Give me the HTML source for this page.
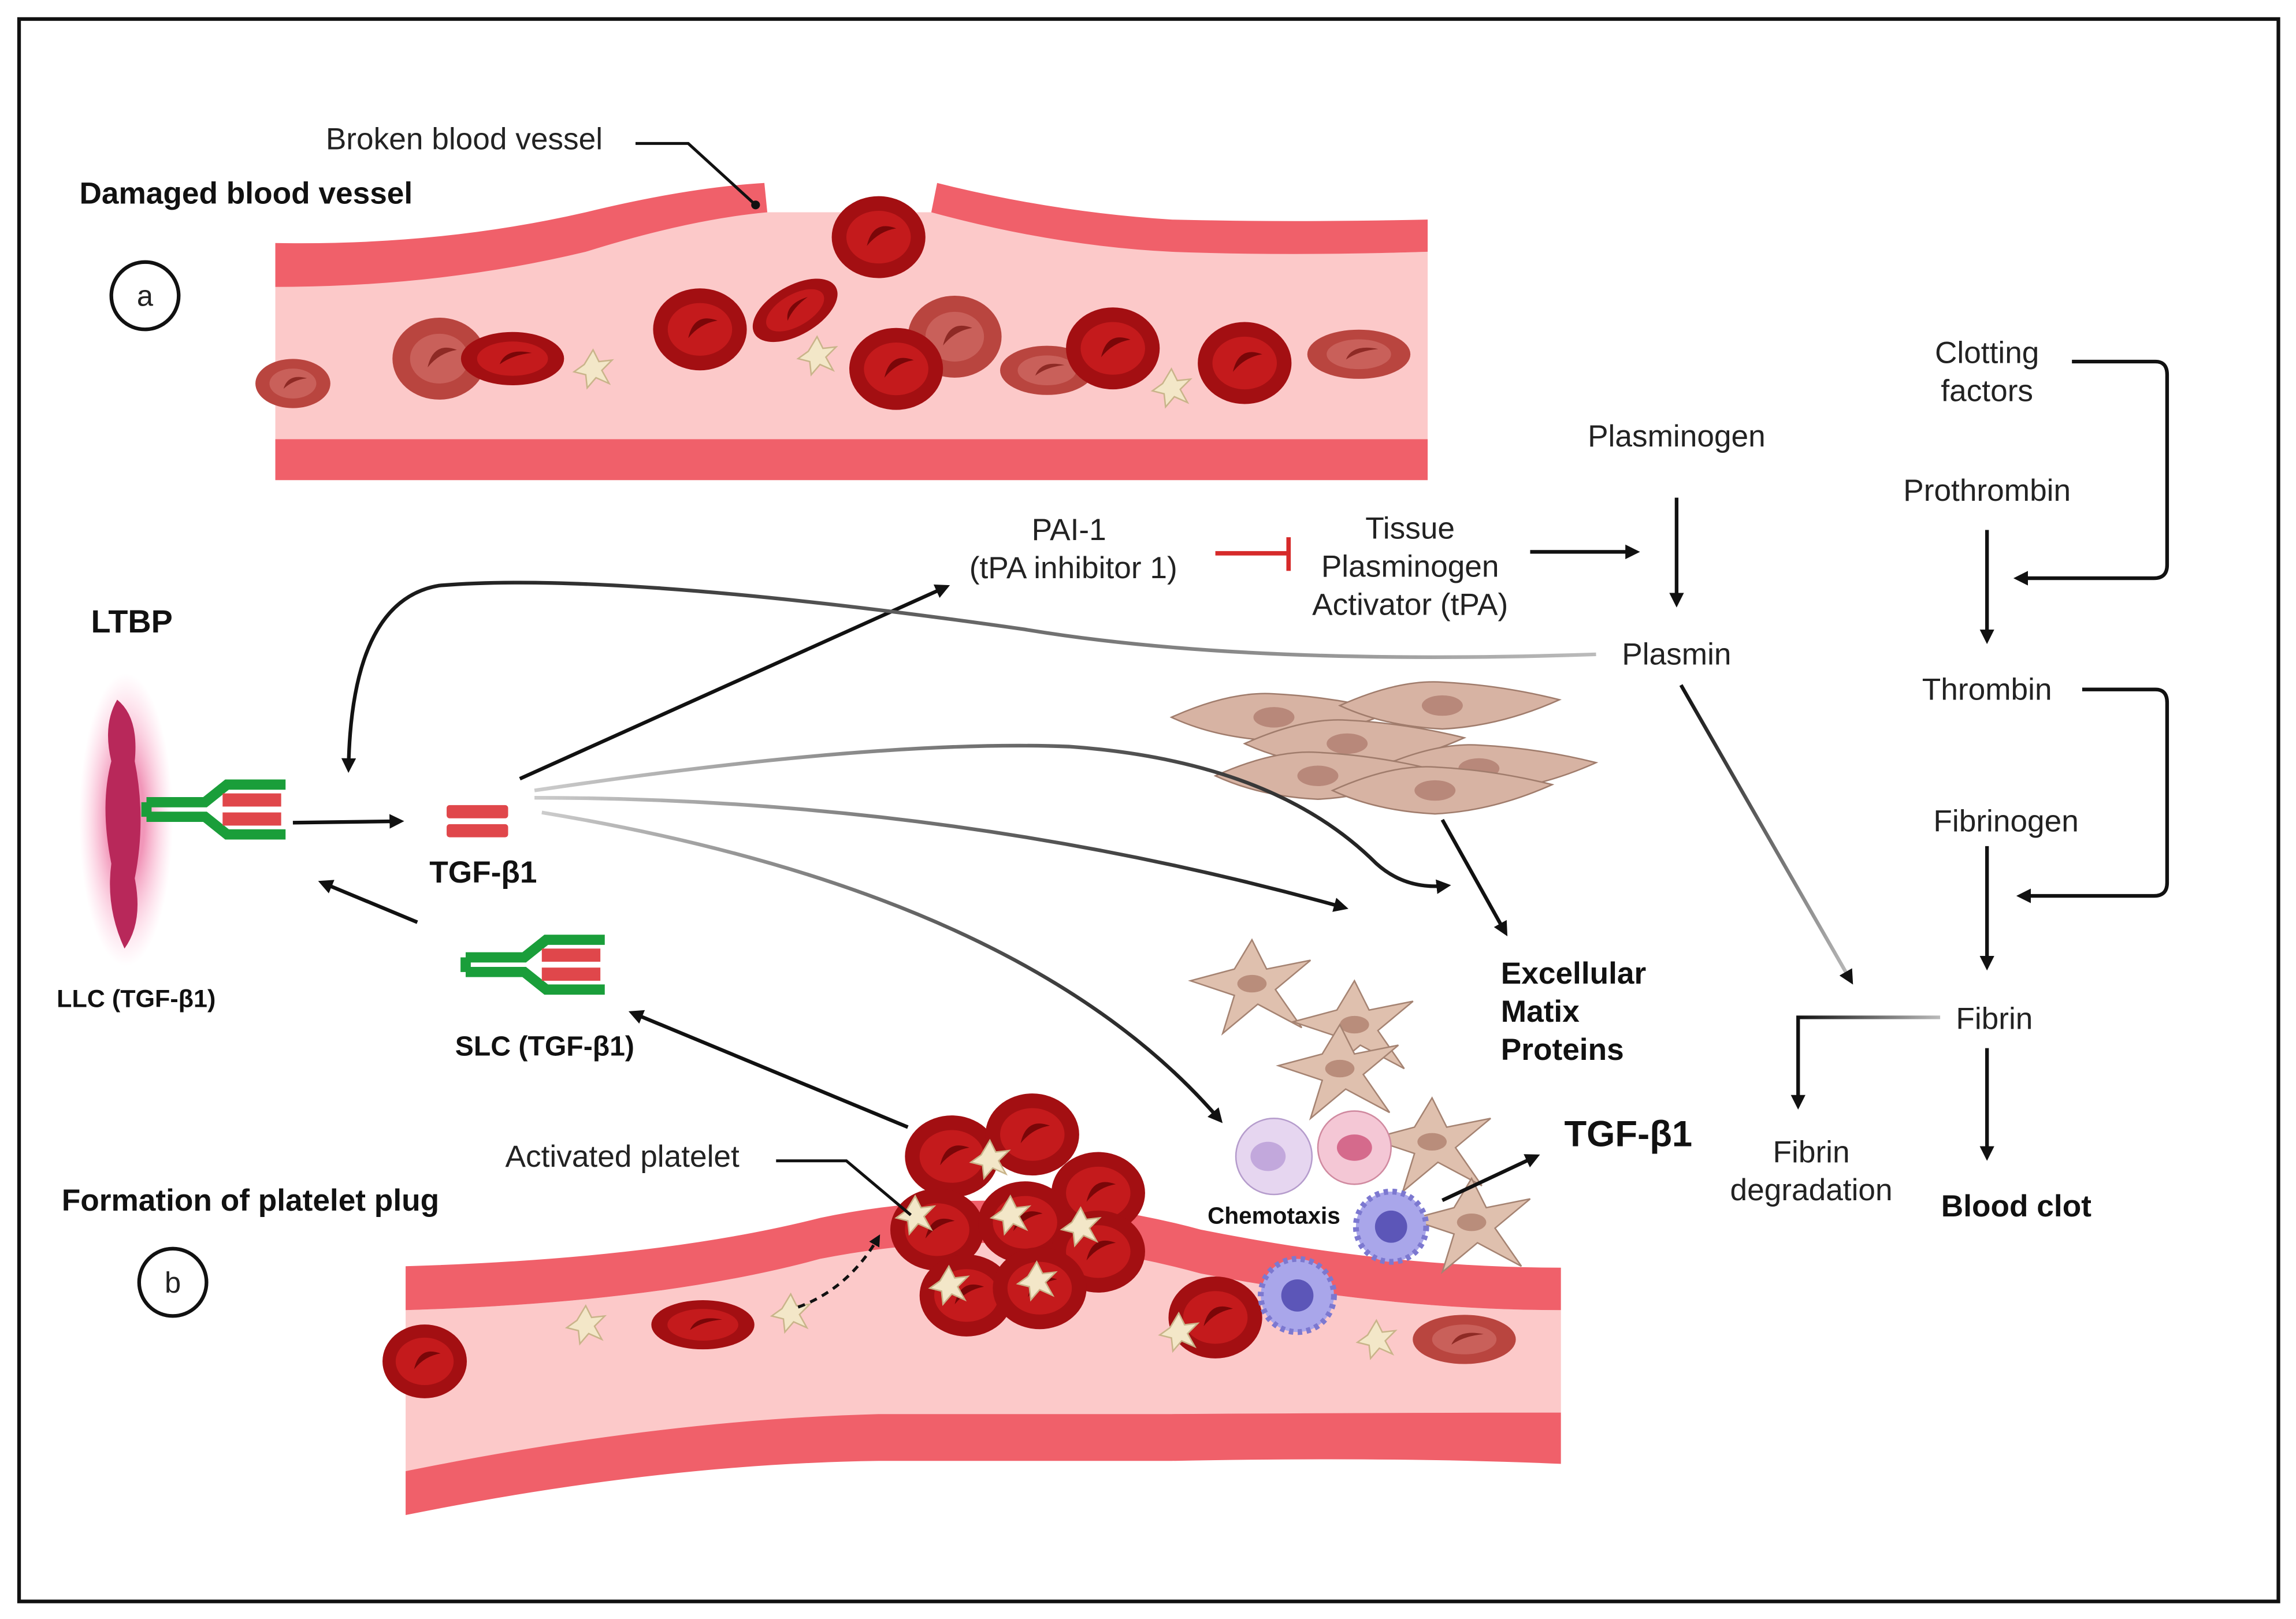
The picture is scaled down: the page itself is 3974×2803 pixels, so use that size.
<!DOCTYPE html>
<html><head><meta charset="utf-8"><style>
html,body{margin:0;padding:0;background:#fff}
svg{display:block}
text{font-family:"Liberation Sans",sans-serif;fill:#222}
.b{font-weight:bold;fill:#111}
</style></head><body>
<svg width="3974" height="2803" viewBox="0 0 1568 1106" xmlns="http://www.w3.org/2000/svg">
<defs>
<marker id="ah" markerWidth="10" markerHeight="10" refX="7" refY="5" orient="auto" markerUnits="userSpaceOnUse"><path d="M0,0 L10,5 L0,10 Z" fill="#111"/></marker>
<marker id="ahs" markerWidth="8" markerHeight="8" refX="6" refY="4" orient="auto" markerUnits="userSpaceOnUse"><path d="M0,0 L8,4 L0,8 Z" fill="#111"/></marker>
<linearGradient id="g1" x1="1" y1="0" x2="0" y2="0"><stop offset="0" stop-color="#bbb"/><stop offset="1" stop-color="#111"/></linearGradient>
<linearGradient id="g2" x1="0" y1="0" x2="1" y2="0"><stop offset="0" stop-color="#ccc"/><stop offset="1" stop-color="#111"/></linearGradient>
<radialGradient id="glow"><stop offset="0.4" stop-color="#e8508a" stop-opacity="0.6"/><stop offset="1" stop-color="#ff9ac0" stop-opacity="0"/></radialGradient>
<g id="rbc"><ellipse rx="32" ry="28" fill="#a30f12"/><ellipse rx="22" ry="18" fill="#c41a1c"/><path d="M-8,6 Q-4,-12 12,-6 Q0,-4 -8,6Z" fill="#7a0608"/></g>
<g id="rbc2"><ellipse rx="32" ry="28" fill="#b9453f"/><ellipse rx="20" ry="17" fill="#c9605a"/><path d="M-8,6 Q-4,-12 12,-6 Q0,-4 -8,6Z" fill="#8e2a25"/></g>
<g id="plt"><path d="M0,-13 L4,-5 L13,-6 L6,1 L11,10 L2,6 L-4,13 L-5,4 L-13,2 L-6,-3 Z" fill="#f3e7c8" stroke="#c9b48a" stroke-width="1"/></g>
<g id="fib"><path d="M-70,0 Q-30,-18 0,-16 Q40,-14 80,-4 Q40,14 0,16 Q-40,14 -70,0Z" fill="#d7b3a3" stroke="#a07c6c" stroke-width="1"/><ellipse cx="0" cy="0" rx="14" ry="7" fill="#b8887a"/></g>
<g id="st"><path d="M0,-30 L10,-10 L40,-16 L16,4 L34,30 L4,14 L-20,34 L-12,8 L-42,-2 L-12,-10 Z" fill="#dfc0ae" stroke="#a58372" stroke-width="1"/><ellipse rx="10" ry="6" fill="#b98d7b"/></g>
<g id="tgf"><rect x="0" y="0" width="42" height="9" rx="2" fill="#e0474b"/><rect x="0" y="13" width="42" height="9" rx="2" fill="#e0474b"/></g>
<g id="rec"><path d="M0,12 L40,12 L55,0 L95,0 M0,22 L40,22 L55,34 L95,34 M0,12 L0,22" fill="none" stroke="#1a9e3a" stroke-width="7"/><rect x="52" y="6" width="40" height="9" fill="#e0474b"/><rect x="52" y="19" width="40" height="9" fill="#e0474b"/></g>
</defs>
<rect x="13" y="13" width="1543" height="1081" fill="#fff" stroke="#111" stroke-width="2.5"/>

<!-- top vessel -->
<path d="M188,195 Q300,195 400,170 Q470,150 520,145 L640,145 Q720,160 800,170 Q880,175 975,172 L975,300 L188,300 Z" fill="#fcc9c9"/>
<path d="M188,166 Q300,168 400,145 Q470,128 522,125 L524,145 Q470,150 400,172 Q300,196 188,196 Z" fill="#f0606a"/>
<path d="M640,125 Q720,145 800,150 Q880,152 975,150 L975,172 Q880,175 800,172 Q720,168 636,145 Z" fill="#f0606a"/>
<rect x="188" y="300" width="787" height="28" fill="#f0606a"/>
<use href="#rbc2" transform="translate(300,245)"/><use href="#rbc2" transform="translate(652,230)"/>
<use href="#rbc2" transform="translate(715,253) scale(1,0.6)"/><use href="#rbc2" transform="translate(928,242) scale(1.1,0.6)"/><use href="#rbc2" transform="translate(200,262) scale(0.8,0.6)"/>
<use href="#rbc" transform="translate(350,245) scale(1.1,0.65)"/><use href="#rbc" transform="translate(478,225)"/><use href="#rbc" transform="translate(543,212) rotate(-30) scale(1,0.6)"/>
<use href="#rbc" transform="translate(600,162)"/><use href="#rbc" transform="translate(612,252)"/><use href="#rbc" transform="translate(760,238)"/><use href="#rbc" transform="translate(850,248)"/>
<use href="#plt" transform="translate(405,252)"/><use href="#plt" transform="translate(558,243)"/><use href="#plt" transform="translate(800,265)"/>
<text x="317" y="102" font-size="21" text-anchor="middle">Broken blood vessel</text>
<path d="M434,98 L470,98 L516,140" fill="none" stroke="#111" stroke-width="2"/><circle cx="516" cy="140" r="3" fill="#111"/>
<text x="168" y="139" font-size="21" class="b" text-anchor="middle">Damaged blood vessel</text>
<circle cx="99" cy="202" r="23" fill="none" stroke="#111" stroke-width="2.5"/><text x="99" y="209" font-size="20" text-anchor="middle">a</text>

<!-- bottom vessel -->
<path d="M277,895 Q450,890 560,860 Q690,830 820,870 Q950,895 1066,895 L1066,965 Q950,965 800,968 L600,968 Q450,970 277,1005 Z" fill="#fcc9c9"/>
<path d="M277,865 Q450,860 560,832 Q690,805 820,840 Q950,866 1066,866 L1066,895 Q950,895 820,870 Q690,834 560,860 Q450,890 277,895 Z" fill="#f0606a"/>
<path d="M277,1005 Q450,970 600,966 L800,966 Q950,965 1066,965 L1066,1000 Q950,995 800,998 L600,998 Q450,1000 277,1035 Z" fill="#f0606a"/>
<use href="#rbc" transform="translate(290,930) scale(0.9)"/><use href="#rbc" transform="translate(480,905) scale(1.1,0.6)"/><use href="#rbc" transform="translate(830,900)"/><use href="#rbc2" transform="translate(1000,915) scale(1.1,0.6)"/>
<use href="#plt" transform="translate(400,905)"/><use href="#plt" transform="translate(540,897)"/><use href="#plt" transform="translate(805,910)"/><use href="#plt" transform="translate(940,915)"/>
<!-- clot -->
<g>
<use href="#rbc" transform="translate(650,790)"/><use href="#rbc" transform="translate(705,775)"/><use href="#rbc" transform="translate(750,815)"/><use href="#rbc" transform="translate(640,840)"/>
<use href="#rbc" transform="translate(700,835)"/><use href="#rbc" transform="translate(750,855)"/><use href="#rbc" transform="translate(660,885)"/><use href="#rbc" transform="translate(710,880)"/>
<use href="#plt" transform="translate(676,792)"/><use href="#plt" transform="translate(690,830)"/><use href="#plt" transform="translate(625,830)"/><use href="#plt" transform="translate(738,838)"/><use href="#plt" transform="translate(648,878)"/><use href="#plt" transform="translate(708,875)"/>
</g>
<path d="M545,893 Q580,880 600,845" fill="none" stroke="#111" stroke-width="2" stroke-dasharray="5,4" marker-end="url(#ahs)"/>
<text x="425" y="797" font-size="21" text-anchor="middle">Activated platelet</text>
<path d="M530,793 L578,793 L622,830" fill="none" stroke="#111" stroke-width="2"/>
<text x="171" y="827" font-size="21" class="b" text-anchor="middle">Formation of platelet plug</text>
<circle cx="118" cy="876" r="23" fill="none" stroke="#111" stroke-width="2.5"/><text x="118" y="883" font-size="20" text-anchor="middle">b</text>

<!-- fibroblasts -->
<use href="#fib" transform="translate(870,490)"/><use href="#fib" transform="translate(985,482)"/><use href="#fib" transform="translate(920,508)"/>
<use href="#fib" transform="translate(1010,525)"/><use href="#fib" transform="translate(900,530)"/><use href="#fib" transform="translate(980,540)"/>
<!-- stellate -->
<use href="#st" transform="translate(855,672)"/><use href="#st" transform="translate(925,700)"/><use href="#st" transform="translate(915,730)"/>
<use href="#st" transform="translate(978,780)"/><use href="#st" transform="translate(1005,835)"/>
<circle cx="870" cy="790" r="26" fill="#e6d6f0" stroke="#b59ccc"/><ellipse cx="866" cy="790" rx="12" ry="10" fill="#c2a8dc"/>
<circle cx="925" cy="784" r="25" fill="#f4c7d5" stroke="#d08aa0"/><ellipse cx="925" cy="784" rx="12" ry="9" fill="#d56a8c"/>
<circle cx="950" cy="838" r="24" fill="#a9a6ea" stroke="#7c78d0" stroke-width="4" stroke-dasharray="3,3"/><circle cx="950" cy="838" r="11" fill="#5c56b8"/>
<circle cx="886" cy="885" r="25" fill="#a9a6ea" stroke="#7c78d0" stroke-width="4" stroke-dasharray="3,3"/><circle cx="886" cy="885" r="11" fill="#5c56b8"/>
<text x="870" y="836" font-size="16" class="b" text-anchor="middle">Chemotaxis</text>

<!-- LTBP -->
<text x="90" y="432" font-size="22" class="b" text-anchor="middle">LTBP</text>
<ellipse cx="86" cy="560" rx="32" ry="100" fill="url(#glow)"/>
<path d="M80,478 Q95,490 92,520 Q100,560 92,600 Q98,630 85,648 Q72,620 76,590 Q68,550 76,520 Q70,495 80,478Z" fill="#b8285a"/>
<use href="#rec" transform="translate(100,536)"/>
<text x="93" y="688" font-size="17" class="b" text-anchor="middle">LLC (TGF-β1)</text>
<use href="#tgf" transform="translate(305,550)"/>
<text x="330" y="603" font-size="21" class="b" text-anchor="middle">TGF-β1</text>
<use href="#rec" transform="translate(318,642)"/>
<text x="372" y="721" font-size="19" class="b" text-anchor="middle">SLC (TGF-β1)</text>
<line x1="200" y1="562" x2="273" y2="561" stroke="#111" stroke-width="2.5" marker-end="url(#ah)"/>
<line x1="285" y1="630" x2="220" y2="603" stroke="#111" stroke-width="2.5" marker-end="url(#ah)"/>
<line x1="620" y1="770" x2="432" y2="692" stroke="#111" stroke-width="2.5" marker-end="url(#ah)"/>

<!-- arrows from TGF -->
<line x1="355" y1="532" x2="646" y2="401" stroke="#111" stroke-width="2.5" marker-end="url(#ah)"/>
<path d="M365,540 Q600,505 730,510 Q870,520 940,590 Q960,608 988,605" fill="none" stroke="url(#g2)" stroke-width="2.5" marker-end="url(#ah)"/>
<path d="M365,545 Q650,545 918,620" fill="none" stroke="url(#g2)" stroke-width="2.5" marker-end="url(#ah)"/>
<path d="M370,555 Q700,610 833,765" fill="none" stroke="url(#g2)" stroke-width="2.5" marker-end="url(#ah)"/>
<line x1="985" y1="560" x2="1028" y2="637" stroke="#111" stroke-width="2.5" marker-end="url(#ah)"/>
<line x1="985" y1="820" x2="1049" y2="790" stroke="#111" stroke-width="2.5" marker-end="url(#ah)"/>
<text x="1025" y="672" font-size="21" class="b">Excellular</text>
<text x="1025" y="698" font-size="21" class="b">Matix</text>
<text x="1025" y="724" font-size="21" class="b">Proteins</text>
<text x="1112" y="783" font-size="25" class="b" text-anchor="middle">TGF-β1</text>

<!-- plasmin pathway -->
<text x="730" y="369" font-size="21" text-anchor="middle">PAI-1</text>
<text x="733" y="395" font-size="21" text-anchor="middle">(tPA inhibitor 1)</text>
<line x1="830" y1="378" x2="880" y2="378" stroke="#d62a2a" stroke-width="3"/><line x1="880" y1="367" x2="880" y2="390" stroke="#d62a2a" stroke-width="3"/>
<text x="963" y="368" font-size="21" text-anchor="middle">Tissue</text>
<text x="963" y="394" font-size="21" text-anchor="middle">Plasminogen</text>
<text x="963" y="420" font-size="21" text-anchor="middle">Activator (tPA)</text>
<line x1="1045" y1="377" x2="1117" y2="377" stroke="#111" stroke-width="2.5" marker-end="url(#ah)"/>
<text x="1145" y="305" font-size="21" text-anchor="middle">Plasminogen</text>
<line x1="1145" y1="340" x2="1145" y2="412" stroke="#111" stroke-width="2.5" marker-end="url(#ah)"/>
<text x="1145" y="454" font-size="21" text-anchor="middle">Plasmin</text>
<path d="M1090,447 Q850,455 700,430 Q420,390 300,400 Q240,410 238,525" fill="none" stroke="url(#g1)" stroke-width="2.5" marker-end="url(#ah)"/>
<line x1="1148" y1="468" x2="1264" y2="670" stroke="url(#g1)" stroke-width="2.5" marker-end="url(#ah)"/>

<!-- coagulation -->
<text x="1357" y="248" font-size="21" text-anchor="middle">Clotting</text>
<text x="1357" y="274" font-size="21" text-anchor="middle">factors</text>
<path d="M1415,247 L1472,247 Q1480,247 1480,256 L1480,386 Q1480,395 1471,395 L1378,395" fill="none" stroke="#111" stroke-width="2.5" marker-end="url(#ah)"/>
<text x="1357" y="342" font-size="21" text-anchor="middle">Prothrombin</text>
<line x1="1357" y1="362" x2="1357" y2="437" stroke="#111" stroke-width="2.5" marker-end="url(#ah)"/>
<text x="1357" y="478" font-size="21" text-anchor="middle">Thrombin</text>
<path d="M1422,471 L1472,471 Q1480,471 1480,480 L1480,603 Q1480,612 1471,612 L1380,612" fill="none" stroke="#111" stroke-width="2.5" marker-end="url(#ah)"/>
<text x="1370" y="568" font-size="21" text-anchor="middle">Fibrinogen</text>
<line x1="1357" y1="578" x2="1357" y2="660" stroke="#111" stroke-width="2.5" marker-end="url(#ah)"/>
<text x="1362" y="703" font-size="21" text-anchor="middle">Fibrin</text>
<line x1="1357" y1="716" x2="1357" y2="790" stroke="#111" stroke-width="2.5" marker-end="url(#ah)"/>
<path d="M1325,695 L1228,695 L1228,755" fill="none" stroke="url(#g1)" stroke-width="2.5" marker-end="url(#ah)"/>
<text x="1237" y="794" font-size="21" text-anchor="middle">Fibrin</text>
<text x="1237" y="820" font-size="21" text-anchor="middle">degradation</text>
<text x="1377" y="831" font-size="21" class="b" text-anchor="middle">Blood clot</text>
</svg>
</body></html>
